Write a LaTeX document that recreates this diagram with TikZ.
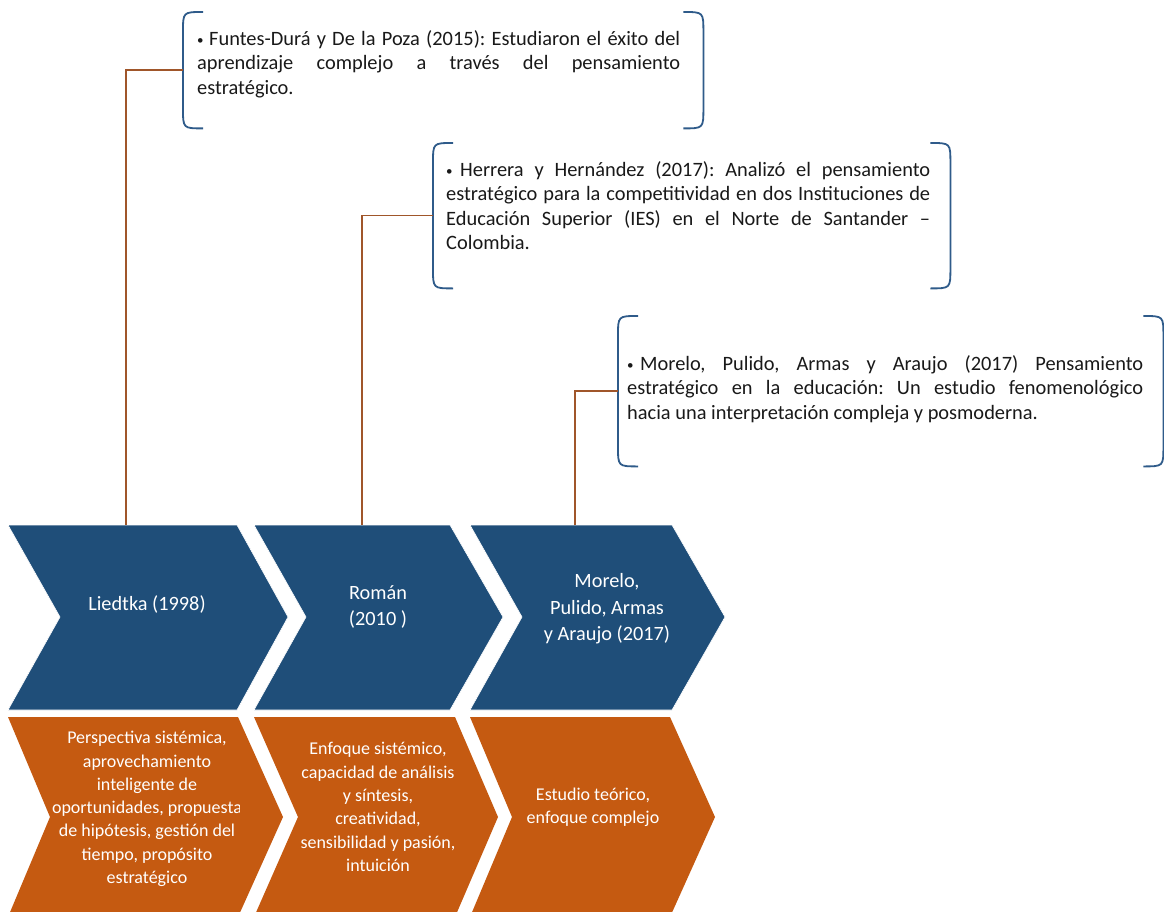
\documentclass[tikz,border=0pt]{standalone}
\usepackage{fontspec}
\setmainfont{Carlito}
\usetikzlibrary{calc}
\frenchspacing
\definecolor{cblue}{HTML}{1F4E79}
\definecolor{corange}{HTML}{C55A11}
\definecolor{cbrk}{HTML}{2F5B8A}
\definecolor{cconn}{HTML}{A0562A}
\tikzset{
  bluechev/.style={fill=cblue, draw=white, line width=0.6pt},
  orchev/.style={fill=corange, draw=none},
  chevtext/.style={text=white, align=center, inner sep=0pt, font=\fontsize{20.3}{26.5}\selectfont},
  ortext/.style={text=white, align=center, inner sep=0pt, font=\fontsize{18}{23.3}\selectfont},
  bubtext/.style={anchor=north west, inner sep=0pt, align=justify, text=black!90, font=\fontsize{20.4}{24.6}\selectfont\frenchspacing},
  bubframe/.style={anchor=north west, inner sep=0pt, draw=none},
  brk/.style={draw=cbrk, line width=1.8pt},
  conn/.style={draw=cconn, line width=1.5pt},
}
\newcommand{\bracketsof}[1]{%
  \draw[brk] ($(#1.north west)+(20,0)$) .. controls (#1.north west) .. ($(#1.north west)+(0,20)$)
     -- ($(#1.south west)+(0,-20)$) .. controls (#1.south west) .. ($(#1.south west)+(20,0)$);
  \draw[brk] ($(#1.north east)+(-20,0)$) .. controls (#1.north east) .. ($(#1.north east)+(0,20)$)
     -- ($(#1.south east)+(0,-20)$) .. controls (#1.south east) .. ($(#1.south east)+(-20,0)$);
}
\newcommand{\bul}[1]{\hangindent=#1\hangafter=1\noindent\makebox[#1][l]{\raisebox{1pt}{\fontsize{13}{13}\selectfont\textbullet}}}
\begin{document}
\begin{tikzpicture}[x=1pt,y=-1pt]
\useasboundingbox (0,0) rectangle (1164,912);
\fill[white] (0,0) rectangle (1164,912);

% blue chevrons
\draw[bluechev] (8,525) -- (237,525) -- (288,617) -- (237,710) -- (8,710) -- (60,617) -- cycle;
\draw[bluechev] (254,525) -- (450,525) -- (503,617) -- (450,710) -- (254,710) -- (306,617) -- cycle;
\draw[bluechev] (470,525) -- (672,525) -- (725,617) -- (672,710) -- (470,710) -- (522,617) -- cycle;
\coordinate (c1) at (126,525);
\coordinate (c2) at (362,525);
\coordinate (c3) at (575,525);
\node[chevtext] (t1) at (147,604) {Liedtka (1998)};
\node[chevtext] (t2) at (378,607) {Román\\(2010 )};
\node[chevtext] (t3) at (607,609) {Morelo,\\Pulido, Armas\\y Araujo (2017)};

% orange chevrons
\begin{scope}
\clip (0,0) rectangle (1164,912);
\fill[orchev] (8,717) -- (238,717) -- (283,817) -- (238,917) -- (8,917) -- (50,817) -- cycle;
\fill[orchev] (254,717) -- (455,717) -- (498,817) -- (455,917) -- (254,917) -- (298,817) -- cycle;
\fill[orchev] (470,717) -- (670,717) -- (715,817) -- (670,917) -- (470,917) -- (512,817) -- cycle;
\end{scope}
\begin{scope}
\clip (40,717) rectangle (239,912);
\node[ortext] (o1) at (147,809) {Perspectiva sistémica,\\aprovechamiento\\inteligente de\\oportunidades, propuesta\\de hipótesis, gestión del\\tiempo, propósito\\estratégico};
\end{scope}
\begin{scope}
\clip (260,717) rectangle (455,912);
\node[ortext] (o2) at (378,807) {Enfoque sistémico,\\capacidad de análisis\\y síntesis,\\creatividad,\\sensibilidad y pasión,\\intuición};
\end{scope}
\node[ortext] (o3) at (593,807) {Estudio teórico,\\enfoque complejo};

% bubbles
\node[bubframe, minimum width=520, minimum height=116] (b1) at (183,12) {};
\node[bubframe, minimum width=517, minimum height=145] (b2) at (433,143) {};
\node[bubframe, minimum width=545, minimum height=150] (b3) at (618,316) {};
\bracketsof{b1}
\bracketsof{b2}
\bracketsof{b3}

\node[bubtext, text width=483] (p1) at (197,30) {\bul{12pt}Funtes-Durá y De la Poza (2015): Estudiaron el éxito del\linebreak aprendizaje complejo a través del pensamiento\linebreak estratégico.};
\node[bubtext, text width=484] (p2) at (446,161) {\bul{14pt}Herrera y Hernández (2017): Analizó el pensamiento\linebreak {\spaceskip=3pt plus 2pt minus 2pt estratégico para la competitividad en dos Instituciones de}\linebreak Educación Superior (IES) en el Norte de Santander –\linebreak Colombia.};
\node[bubtext, text width=516] (p3) at (627,355) {\bul{13pt}Morelo, Pulido, Armas y Araujo (2017) Pensamiento\linebreak estratégico en la educación: Un estudio fenomenológico\linebreak hacia una interpretación compleja y posmoderna.};

% connectors
\draw[conn] (c1) |- (b1.west);
\draw[conn] (c2) |- (b2.west);
\draw[conn] (c3) |- (b3.west);
\end{tikzpicture}
\end{document}
